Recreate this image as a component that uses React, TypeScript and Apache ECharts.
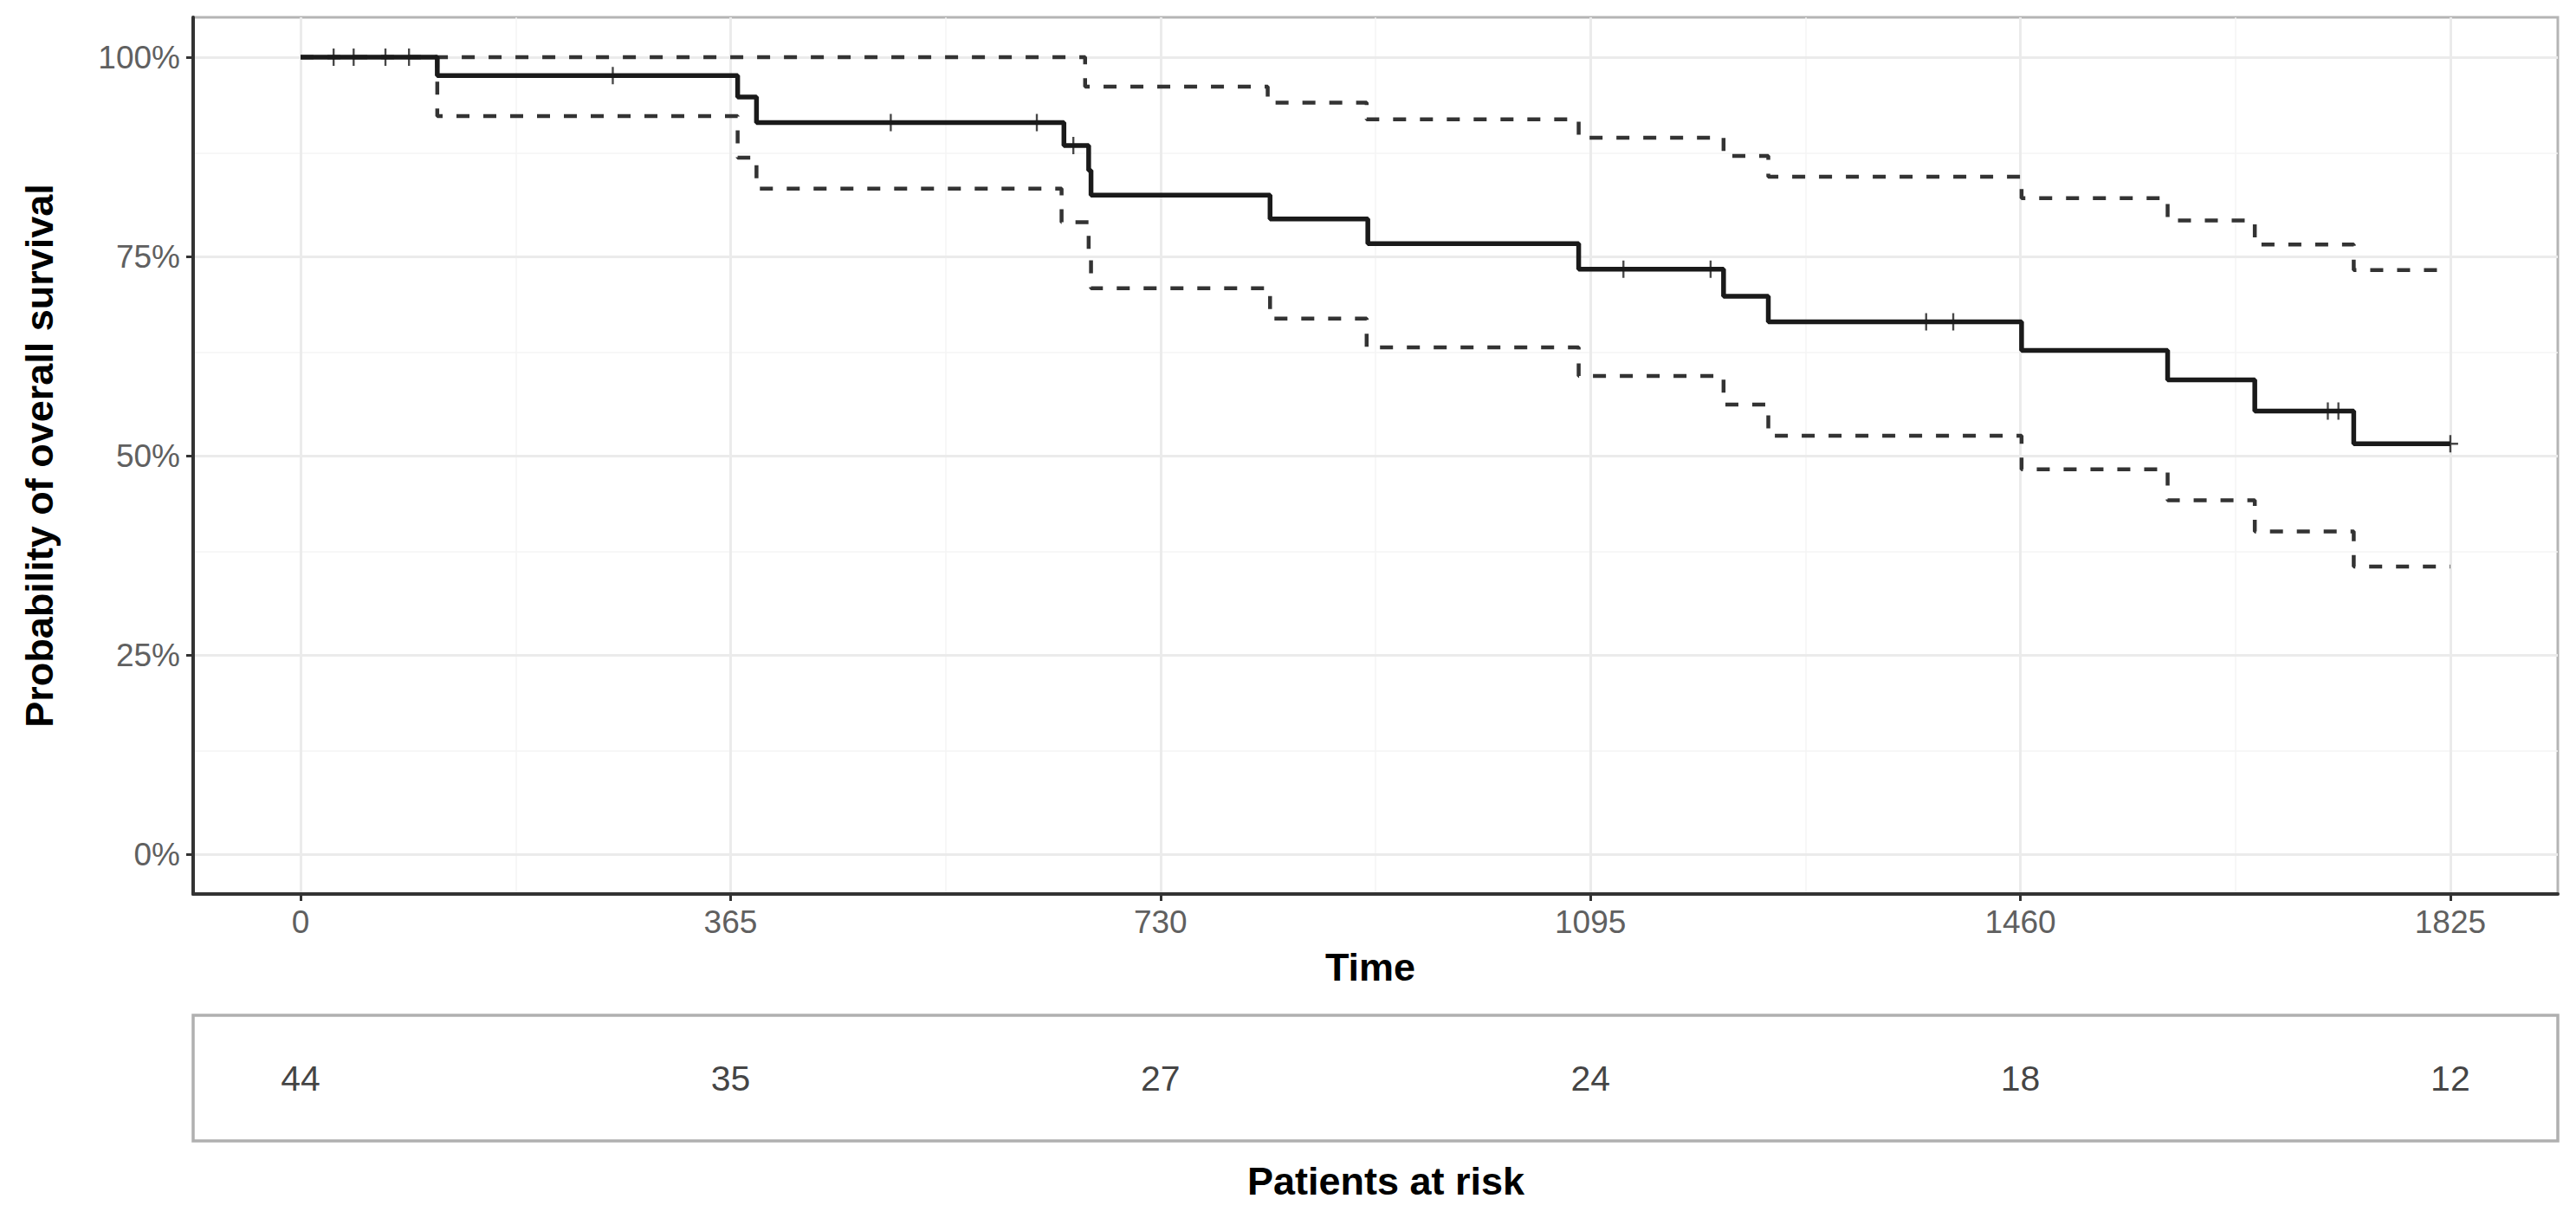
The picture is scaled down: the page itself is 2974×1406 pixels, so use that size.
import React, { useEffect, useRef } from "react";
import * as echarts from "echarts";

// ---- data ----
const timeTicks = [0, 365, 730, 1095, 1460, 1825];
const minorTimeTicks = [182.5, 547.5, 912.5, 1277.5, 1642.5];
const survTicks = [0, 0.25, 0.5, 0.75, 1];
const minorSurvTicks = [0.125, 0.375, 0.625, 0.875];
const atRisk = [44, 35, 27, 24, 18, 12];

const kmTimes = [0, 116, 371, 387, 648, 669, 671, 823, 906, 1085, 1208, 1246, 1461, 1585, 1659, 1743, 1825];
const kmSurv = [1.0, 0.977, 0.95, 0.918, 0.889, 0.858, 0.827, 0.797, 0.766, 0.734, 0.7, 0.668, 0.632, 0.595, 0.556, 0.515, 0.515];

const upperTimes = [0, 666, 821, 905, 1085, 1208, 1246, 1461, 1585, 1659, 1743, 1825];
const upperSurv = [1.0, 0.963, 0.943, 0.922, 0.899, 0.876, 0.85, 0.823, 0.795, 0.765, 0.733, 0.733];

const lowerTimes = [0, 116, 371, 387, 646, 669, 671, 823, 905, 1085, 1208, 1246, 1461, 1585, 1659, 1743, 1825];
const lowerSurv = [1.0, 0.926, 0.874, 0.835, 0.793, 0.753, 0.71, 0.672, 0.636, 0.6, 0.564, 0.525, 0.483, 0.444, 0.405, 0.361, 0.361];

const censorTimes = [28, 45, 72, 92, 265, 501, 625, 656, 1123, 1197, 1380, 1403, 1721, 1730, 1825];
const censorSurv = [1.0, 1.0, 1.0, 1.0, 0.977, 0.918, 0.918, 0.889, 0.734, 0.734, 0.668, 0.668, 0.556, 0.556, 0.515];

const xMin = -91.25;
const xMax = 1916.25;

export default function App() {
  const ref = useRef<HTMLDivElement>(null);

  useEffect(() => {
    if (!ref.current) return;
    const chart = echarts.init(ref.current, undefined, { renderer: "svg" });

    const majorStyle = { color: "#ebebeb", width: 3, type: "solid" as const };
    const minorStyle = { color: "#f4f4f4", width: 1.5, type: "solid" as const };

    const gridLines: any[] = [
      ...minorTimeTicks.map((v) => ({ xAxis: v, lineStyle: minorStyle })),
      ...minorSurvTicks.map((v) => ({ yAxis: v, lineStyle: minorStyle })),
      ...timeTicks.map((v) => ({ xAxis: v, lineStyle: majorStyle })),
      ...survTicks.map((v) => ({ yAxis: v, lineStyle: majorStyle })),
    ];

    const zip = (a: number[], b: number[]) => a.map((t, i) => [t, b[i]]);

    const titleFont = {
      fontFamily: "Liberation Sans",
      fontWeight: "bold" as const,
      fontSize: 45,
      fill: "#000",
      align: "center" as const,
      verticalAlign: "middle" as const,
    };

    chart.setOption({
      animation: false,
      backgroundColor: "#ffffff",
      grid: [
        {
          left: 223,
          top: 20,
          width: 2730,
          height: 1012,
          show: true,
          borderColor: "#b5b5b5",
          borderWidth: 3,
          backgroundColor: "transparent",
        },
        {
          left: 223,
          top: 1172,
          width: 2730,
          height: 145,
          show: true,
          borderColor: "#b0b0b0",
          borderWidth: 3.5,
          backgroundColor: "transparent",
        },
      ],
      xAxis: [
        {
          type: "value",
          gridIndex: 0,
          min: xMin,
          max: xMax,
          axisLine: { show: true, onZero: false, lineStyle: { color: "#333333", width: 4 } },
          axisTick: {
            show: true,
            customValues: timeTicks,
            length: 8,
            lineStyle: { color: "#333333", width: 3 },
          },
          axisLabel: {
            customValues: timeTicks,
            fontFamily: "Liberation Sans",
            fontSize: 37,
            color: "#606060",
            margin: 14,
            formatter: (v: number) => String(v),
          },
          splitLine: { show: false },
        },
        {
          type: "value",
          gridIndex: 1,
          min: xMin,
          max: xMax,
          show: false,
        },
      ],
      yAxis: [
        {
          type: "value",
          gridIndex: 0,
          min: -0.05,
          max: 1.05,
          axisLine: { show: true, onZero: false, lineStyle: { color: "#333333", width: 4 } },
          axisTick: {
            show: true,
            customValues: survTicks,
            length: 8,
            lineStyle: { color: "#333333", width: 3 },
          },
          axisLabel: {
            customValues: survTicks,
            fontFamily: "Liberation Sans",
            fontSize: 37,
            color: "#606060",
            margin: 15,
            formatter: (v: number) => Math.round(v * 100) + "%",
          },
          splitLine: { show: false },
        },
        {
          type: "value",
          gridIndex: 1,
          min: 0,
          max: 1,
          show: false,
        },
      ],
      series: [
        {
          type: "line",
          xAxisIndex: 0,
          yAxisIndex: 0,
          data: [[0, 0.5]],
          symbol: "none",
          lineStyle: { opacity: 0 },
          silent: true,
          z: 0,
          markLine: {
            silent: true,
            z: 0,
            symbol: ["none", "none"],
            label: { show: false },
            animation: false,
            data: gridLines,
          },
        },
        {
          name: "lower",
          type: "line",
          step: "end",
          data: zip(lowerTimes, lowerSurv),
          symbol: "none",
          lineStyle: { color: "#333333", width: 4.5, type: [15, 16] },
          z: 3,
        },
        {
          name: "upper",
          type: "line",
          step: "end",
          data: zip(upperTimes, upperSurv),
          symbol: "none",
          lineStyle: { color: "#333333", width: 4.5, type: [15, 16] },
          z: 3,
        },
        {
          name: "survival",
          type: "line",
          step: "end",
          data: zip(kmTimes, kmSurv),
          symbol: "none",
          lineStyle: { color: "#1a1a1a", width: 5.5 },
          z: 4,
        },
        {
          name: "censored",
          type: "scatter",
          data: zip(censorTimes, censorSurv),
          symbol: "path://M10 0 L10 20 M0 10 L20 10",
          symbolSize: [18, 20],
          itemStyle: { color: "transparent", borderColor: "#1a1a1a", borderWidth: 2.5 },
          z: 5,
        },
        {
          name: "at risk",
          type: "scatter",
          xAxisIndex: 1,
          yAxisIndex: 1,
          data: timeTicks.map((t, i) => [t, 0.5, atRisk[i]]),
          symbolSize: 1,
          itemStyle: { color: "rgba(0,0,0,0)" },
          label: {
            show: true,
            position: "inside",
            formatter: (p: any) => String(p.value[2]),
            fontFamily: "Liberation Sans",
            fontSize: 41,
            color: "#111111",
          },
        },
      ],
      graphic: [
        {
          type: "text",
          x: 45,
          y: 526,
          rotation: Math.PI / 2,
          style: { text: "Probability of overall survival", ...titleFont },
        },
        {
          type: "text",
          x: 1582,
          y: 1116,
          style: { text: "Time", ...titleFont },
        },
        {
          type: "text",
          x: 1600,
          y: 1363,
          style: { text: "Patients at risk", ...titleFont },
        },
      ],
    });

    return () => chart.dispose();
  }, []);

  return (
    <div
      ref={ref}
      style={{ position: "fixed", left: 0, top: 0, width: 2974, height: 1406, background: "#fff" }}
    />
  );
}
